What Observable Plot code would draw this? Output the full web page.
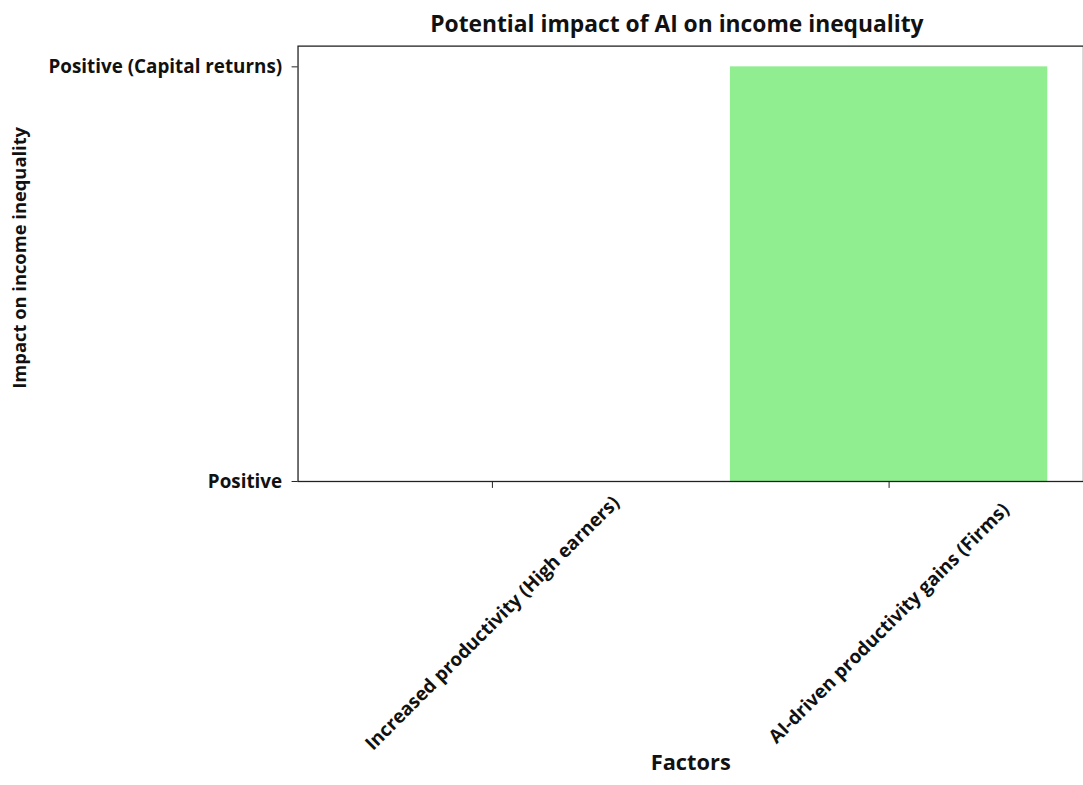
<!DOCTYPE html>
<html>
<head>
<meta charset="utf-8">
<script src="https://cdn.jsdelivr.net/npm/d3@7"></script>
<script src="https://cdn.jsdelivr.net/npm/@observablehq/plot@0.6"></script>
<style>
  html, body { margin: 0; padding: 0; background: #fff; overflow: hidden; }
</style>
</head>
<body>
<div id="chart"></div>
<script>
// Factors on the x axis and the impact level each one is assigned
const factors = ["Increased productivity (High earners)", "AI-driven productivity gains (Firms)"];
const impactLevels = ["Positive", "Positive (Capital returns)"];
const impacts = ["Positive", "Positive (Capital returns)"];
const barColors = ["#90ee90", "#90ee90"];

const titleText = "Potential impact of AI on income inequality";
const xLabel = "Factors";
const yLabel = "Impact on income inequality";

// Categorical impact levels become ordinal positions on a numeric axis
const rows = factors.map((f, i) => ({
  factor: f,
  level: impactLevels.indexOf(impacts[i]),
  color: barColors[i]
}));

const font = "'Open Sans', Lato, sans-serif";

const chart = Plot.plot({
  width: 1092,
  height: 785,
  marginTop: 46,
  marginBottom: 300,
  marginLeft: 300,
  marginRight: 0,
  style: { fontFamily: font, fontWeight: 700, fontSize: "19px", color: "#111", background: "#fff" },
  x: { domain: factors, paddingInner: 0.2, paddingOuter: 0.09, label: null },
  y: { domain: [0, 1.05], label: null },
  marks: [
    Plot.barY(rows, { x: "factor", y: "level", fill: "color" }),
    Plot.frame({ stroke: "#222", strokeWidth: 1.3 }),
    Plot.axisY({ ticks: [0, 1], tickFormat: (i) => impactLevels[i], tickSize: 6, tickPadding: 10, fontSize: 19, label: null, stroke: "#222" }),
    Plot.axisX({ tickSize: 7, tickFormat: () => "", label: null, stroke: "#222" }),
    // Rotated factor labels, centred under each tick
    Plot.text(factors, { x: (d) => d, frameAnchor: "bottom", lineAnchor: "middle", dy: 143, rotate: -45, textAnchor: "middle", fontSize: 19, fontWeight: 700 }),
    Plot.text([titleText], { frameAnchor: "top", lineAnchor: "middle", dx: -14, dy: -22, fontSize: 23, fontWeight: 700 }),
    Plot.text([yLabel], { frameAnchor: "left", lineAnchor: "middle", textAnchor: "middle", dx: -280, dy: -6, rotate: -90, fontSize: 18.5, fontWeight: 700 }),
    Plot.text([xLabel], { frameAnchor: "bottom", lineAnchor: "middle", dy: 284, fontSize: 22, fontWeight: 700 })
  ]
});

document.getElementById("chart").appendChild(chart);
</script>
</body>
</html>
